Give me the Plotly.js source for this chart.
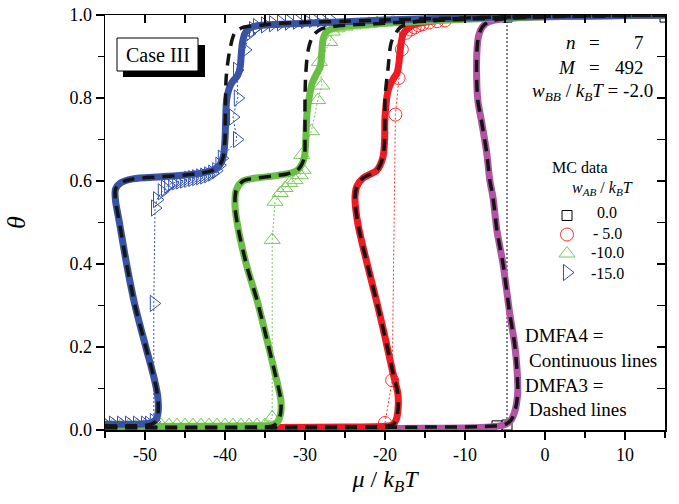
<!DOCTYPE html>
<html><head><meta charset="utf-8">
<script src="https://cdn.plot.ly/plotly-3.0.1.min.js"></script>
<style>html,body{margin:0;padding:0;background:#fff}#chart{width:679px;height:504px}</style>
</head><body><div id="chart"></div>
<script>
// ---------- tick labels ----------
const xTickVals = [-50, -40, -30, -20, -10, 0, 10];
const xTickText = ['-50', '-40', '-30', '-20', '-10', '0', '10'];
const yTickVals = [0, 0.2, 0.4, 0.6, 0.8, 1.0];
const yTickText = ['0.0', '0.2', '0.4', '0.6', '0.8', '1.0'];
const xMinorVals = [-55, -50, -45, -40, -35, -30, -25, -20, -15, -10, -5, 0, 5, 10, 15];
const yMinorVals = [0, 0.1, 0.2, 0.3, 0.4, 0.5, 0.6, 0.7, 0.8, 0.9, 1.0];

// ---------- legend labels (w_AB / k_B T) ----------
const mcLabels = ['0.0', '- 5.0', '-10.0', '-15.0'];

// ---------- DMFA4 (continuous lines) ----------
const blue4X = [-55, -52, -50, -49.2, -48.6, -48.35, -48.4, -48.8, -49.9, -51.25, -52.3, -53.2, -53.7, -53.7, -53.1, -51.5, -48, -45.25, -43, -41.5, -40.6, -40.2, -40.0, -39.8, -39.5, -39.1, -38.4, -38.1, -37.95, -37.8, -37.5, -37.0, -36, -34, -30, -25, -20, -10, 0, 15];
const blue4Y = [0.014, 0.014, 0.015, 0.018, 0.026, 0.045, 0.08, 0.12, 0.2, 0.3, 0.4, 0.5, 0.555, 0.58, 0.595, 0.605, 0.61, 0.614, 0.619, 0.626, 0.64, 0.66, 0.7, 0.795, 0.822, 0.838, 0.855, 0.875, 0.91, 0.935, 0.956, 0.968, 0.974, 0.977, 0.98, 0.984, 0.988, 0.993, 0.997, 1.0];

const green4X = [-55, -45, -36, -34, -33.4, -33.05, -33.0, -33.3, -33.75, -34.75, -36, -37.25, -38.4, -38.75, -38.6, -37.75, -36.5, -34, -32.25, -31, -30.4, -30.05, -29.9, -29.75, -29.4, -29.1, -28.5, -28.1, -27.9, -27.75, -27.4, -26.5, -25, -20, -10, 0, 15];
const green4Y = [0.009, 0.009, 0.01, 0.012, 0.02, 0.04, 0.07, 0.1, 0.137, 0.217, 0.313, 0.393, 0.49, 0.54, 0.578, 0.6, 0.606, 0.612, 0.617, 0.625, 0.64, 0.66, 0.7, 0.764, 0.81, 0.836, 0.86, 0.875, 0.91, 0.94, 0.958, 0.968, 0.973, 0.98, 0.99, 0.996, 1.0];

const red4X = [-55, -40, -25, -20, -19, -18.6, -18.35, -18.4, -19, -20, -21, -22.25, -23.4, -23.75, -23.5, -22.75, -21, -20.25, -20.05, -20, -19.6, -19.0, -18.5, -18.25, -18.1, -17.7, -17.0, -16.5, -13, -5, 0, 15];
const red4Y = [0.006, 0.006, 0.007, 0.009, 0.013, 0.025, 0.055, 0.089, 0.137, 0.224, 0.306, 0.402, 0.498, 0.56, 0.588, 0.607, 0.626, 0.658, 0.7, 0.754, 0.819, 0.845, 0.86, 0.885, 0.916, 0.956, 0.97, 0.976, 0.988, 0.995, 0.997, 1.0];

const mag4X = [-55, -30, -15, -8, -6, -5, -4.2, -3.7, -3.45, -3.4, -3.75, -4.4, -5.25, -6, -6.5, -6.9, -7.3, -7.9, -8.4, -8.55, -8.5, -8.3, -7.8, -7.0, -5.5, -3, 0, 15];
const mag4Y = [0.003, 0.003, 0.004, 0.006, 0.009, 0.013, 0.025, 0.05, 0.08, 0.104, 0.2, 0.28, 0.4, 0.48, 0.56, 0.602, 0.67, 0.74, 0.795, 0.86, 0.916, 0.95, 0.972, 0.984, 0.99, 0.994, 0.996, 1.0];

// ---------- DMFA3 (dashed lines) ----------
const blue3X = [-55, -52, -50, -49.2, -48.6, -48.35, -48.4, -48.8, -49.9, -51.25, -52.3, -53.2, -53.7, -53.7, -53.1, -51.5, -48, -45.25, -43, -41.5, -40.6, -40.2, -40.0, -39.95, -39.85, -39.4, -38.75, -37.75, -35.25, -34, -30, -25, -20, -10, 0, 15];
const blue3Y = [0.01, 0.01, 0.011, 0.014, 0.022, 0.045, 0.08, 0.12, 0.2, 0.3, 0.4, 0.5, 0.555, 0.58, 0.595, 0.605, 0.61, 0.614, 0.619, 0.626, 0.64, 0.66, 0.7, 0.76, 0.85, 0.916, 0.958, 0.97, 0.976, 0.979, 0.982, 0.985, 0.988, 0.993, 0.997, 1.0];

const green3X = [-55, -45, -36, -34, -33.4, -33.05, -33.0, -33.3, -33.75, -34.75, -36, -37.25, -38.4, -38.75, -38.6, -37.75, -36.5, -34, -32.25, -31, -30.4, -30.05, -30.0, -30.0, -29.9, -29.6, -29.0, -28.0, -26.5, -25, -20, -10, 0, 15];
const green3Y = [0.006, 0.006, 0.007, 0.01, 0.02, 0.04, 0.07, 0.1, 0.137, 0.217, 0.313, 0.393, 0.49, 0.54, 0.578, 0.6, 0.606, 0.612, 0.617, 0.625, 0.64, 0.66, 0.7, 0.8, 0.86, 0.916, 0.95, 0.966, 0.972, 0.975, 0.98, 0.99, 0.996, 1.0];

const red3X = [-55, -40, -25, -20, -19, -18.6, -18.35, -18.4, -19, -20, -21, -22.25, -23.4, -23.75, -23.5, -22.75, -21, -20.25, -20.05, -20, -20.0, -19.6, -19.2, -18.1, -16, -13, -5, 0, 15];
const red3Y = [0.006, 0.006, 0.007, 0.009, 0.013, 0.025, 0.055, 0.089, 0.137, 0.224, 0.306, 0.402, 0.498, 0.56, 0.588, 0.607, 0.626, 0.658, 0.7, 0.754, 0.8, 0.875, 0.935, 0.97, 0.985, 0.99, 0.995, 0.997, 1.0];

const mag3X = mag4X;
const mag3Y = [0.006, 0.006, 0.007, 0.008, 0.01, 0.013, 0.025, 0.05, 0.08, 0.104, 0.2, 0.28, 0.4, 0.48, 0.56, 0.602, 0.67, 0.74, 0.795, 0.86, 0.916, 0.95, 0.972, 0.984, 0.99, 0.994, 0.996, 1.0];

// ---------- MC data ----------
const mcBlueX = [-55, -54, -53, -52, -51, -50, -49.5, -48.9, -48.9, -48.75, -48.5, -47.9, -47.5, -47.1, -46.6, -46.1, -45.6, -45.1, -44.6, -44.1, -43.6, -43.1, -42.6, -42.1, -41.6, -41.1, -40.7, -40.4, -38.5, -39.0, -38.4, -38.5, -37.5, -37.0, -36.5, -36, -35, -34, -33, -32, -31, -30, -29, -28, -27];
const mcBlueY = [0.014, 0.014, 0.014, 0.014, 0.014, 0.014, 0.014, 0.02, 0.305, 0.535, 0.555, 0.574, 0.583, 0.59, 0.595, 0.598, 0.6, 0.602, 0.604, 0.606, 0.608, 0.61, 0.612, 0.615, 0.619, 0.625, 0.638, 0.655, 0.7, 0.754, 0.8, 0.867, 0.916, 0.955, 0.965, 0.972, 0.976, 0.979, 0.981, 0.983, 0.985, 0.987, 0.989, 0.99, 0.991];

const mcGreenX = [-55, -54, -53, -52, -51, -50, -49, -48, -47, -46, -45, -44, -43, -42, -41, -40, -39, -38, -37, -36, -35, -34.1, -34.1, -33.75, -33.1, -32.5, -31.9, -31.25, -30.6, -30.25, -30.4, -29.2, -28.4, -27.9, -28.2, -26.9, -26.6, -26, -25, -24, -23, -22, -21, -20, -19];
const mcGreenY = [0.012, 0.012, 0.012, 0.012, 0.012, 0.012, 0.012, 0.012, 0.012, 0.012, 0.012, 0.012, 0.012, 0.012, 0.012, 0.012, 0.012, 0.012, 0.012, 0.012, 0.012, 0.03, 0.458, 0.55, 0.571, 0.583, 0.595, 0.602, 0.614, 0.627, 0.663, 0.72, 0.795, 0.83, 0.887, 0.935, 0.96, 0.968, 0.972, 0.975, 0.977, 0.979, 0.981, 0.983, 0.985];

const mcRedX = [-20, -19.1, -18.7, -18.3, -17.9, -17.4, -16.8, -16.3, -15.8, -15.3, -14.5, -13.5, -12.5];
const mcRedY = [0.017, 0.12, 0.76, 0.848, 0.917, 0.957, 0.965, 0.97, 0.975, 0.978, 0.982, 0.985, 0.987];

const mcBlackX = [-55, -6, -4.75, -4.75, 15];
const mcBlackY = [0.008, 0.01, 0.012, 0.995, 0.995];

// ---------- styles ----------
const C = {blue: 'rgb(57,83,164)', green: 'rgb(106,190,69)', red: 'rgb(237,28,36)', mag: 'rgb(178,84,164)',
           mcBlue: 'rgb(52,80,176)', mcGreen: 'rgb(120,200,90)', mcRed: 'rgb(255,50,50)', mcBlack: 'rgb(0,0,0)'};
const serif = 'Liberation Serif, Times New Roman, serif';

const traces = [];
function mcLine(x, y, color) {
  traces.push({x, y, mode: 'lines', line: {color, width: 1, dash: '2px,2px'}, showlegend: false, hoverinfo: 'skip'});
}
function mcMarkers(x, y, color, symbol, size) {
  traces.push({x, y, mode: 'markers', name: '\u00a0', marker: {symbol, size, color, line: {color, width: 1}}});
}
mcLine(mcBlackX, mcBlackY, C.mcBlack);
mcLine(mcRedX, mcRedY, C.mcRed);
mcLine(mcGreenX, mcGreenY, C.mcGreen);
mcLine(mcBlueX, mcBlueY, C.mcBlue);
mcMarkers(mcBlackX, mcBlackY, C.mcBlack, 'square-open', 10);
mcMarkers(mcRedX, mcRedY, C.mcRed, 'circle-open', 13);
mcMarkers(mcGreenX, mcGreenY, C.mcGreen, 'triangle-up-open', 14);
mcMarkers(mcBlueX, mcBlueY, C.mcBlue, 'triangle-right-open', 14);

function dmfa4(x, y, color) {
  traces.push({x, y, mode: 'lines', line: {color, width: 7, shape: 'spline', smoothing: 0.8}, showlegend: false, hoverinfo: 'skip'});
}
function dmfa3(x, y) {
  traces.push({x, y, mode: 'lines', line: {color: 'rgb(20,20,20)', width: 3.5, dash: '12px,8px', shape: 'spline', smoothing: 0.8}, showlegend: false, hoverinfo: 'skip'});
}
dmfa4(mag4X, mag4Y, C.mag);
dmfa4(red4X, red4Y, C.red);
dmfa4(green4X, green4Y, C.green);
dmfa4(blue4X, blue4Y, C.blue);
dmfa3(mag3X, mag3Y);
dmfa3(red3X, red3Y);
dmfa3(green3X, green3Y);
dmfa3(blue3X, blue3Y);

// invisible trace on the overlay axes that carry the inside ticks (top / right)
traces.push({x: [0], y: [0.5], xaxis: 'x2', yaxis: 'y2', mode: 'markers', marker: {size: 2, color: 'rgba(0,0,0,0)'}, showlegend: false, hoverinfo: 'skip'});

const px = v => (v - 105) / 560;
const py = v => (430 - v) / 415;

const ann = (text, x, y, xanchor, size) => ({
  text, x, y, xref: 'paper', yref: 'paper', xanchor, yanchor: 'middle', showarrow: false,
  font: {family: serif, size, color: '#000'}});

const legendRows = [213, 233, 252, 273];
const legendAnns = mcLabels.map((t, i) => ann(t, px(607), py(legendRows[i]), 'center', 16));

const layout = {
  width: 679, height: 504,
  margin: {l: 105, r: 14, t: 15, b: 74, autoexpand: false},
  paper_bgcolor: '#fff', plot_bgcolor: '#fff',
  font: {family: serif, color: '#000'},
  showlegend: true,
  legend: {x: px(547), y: py(201), xanchor: 'left', yanchor: 'top', bgcolor: 'rgba(0,0,0,0)',
           font: {family: serif, size: 11, color: '#000'}, itemwidth: 30, tracegroupgap: 0},
  xaxis: {range: [-55, 15], tickvals: xTickVals, ticktext: xTickText, ticks: 'outside', ticklen: 8, tickwidth: 1.2,
          tickcolor: '#000', showline: true, linecolor: '#000', linewidth: 1.5, mirror: true, showgrid: false, zeroline: false,
          automargin: true, tickfont: {family: serif, size: 18, color: '#000'},
          minor: {tickvals: xMinorVals, ticks: 'outside', ticklen: 6, tickwidth: 1.2, tickcolor: '#000', showgrid: false},
          title: {text: '<i>μ</i> / <i>k</i><sub><i>B</i></sub><i>T</i>', font: {family: serif, size: 24, color: '#000'}, standoff: 6}},
  yaxis: {range: [0, 1], tickvals: yTickVals, ticktext: yTickText, ticks: 'outside', ticklen: 8, tickwidth: 1.2,
          tickcolor: '#000', showline: true, linecolor: '#000', linewidth: 1.5, mirror: true, showgrid: false, zeroline: false,
          automargin: true, tickfont: {family: serif, size: 18, color: '#000'},
          minor: {tickvals: yMinorVals, ticks: 'outside', ticklen: 6, tickwidth: 1.2, tickcolor: '#000', showgrid: false},
          title: {text: '<i>θ</i>', font: {family: serif, size: 26, color: '#000'}, standoff: 36}},
  xaxis2: {overlaying: 'x', side: 'top', anchor: 'y', range: [-55, 15], tickvals: xMinorVals, ticktext: xMinorVals.map(String),
           ticks: 'inside', ticklen: 8, tickwidth: 1.5, tickcolor: '#000', showticklabels: true,
           tickfont: {size: 2, color: 'rgba(255,255,255,0)'}, showgrid: false, zeroline: false, showline: false},
  yaxis2: {overlaying: 'y', side: 'right', anchor: 'x', range: [0, 1], tickvals: yMinorVals, ticktext: yMinorVals.map(String),
           ticks: 'inside', ticklen: 8, tickwidth: 1.5, tickcolor: '#000', showticklabels: true,
           tickfont: {size: 2, color: 'rgba(255,255,255,0)'}, showgrid: false, zeroline: false, showline: false},
  shapes: [
    {type: 'rect', xref: 'paper', yref: 'paper', x0: px(123), x1: px(205), y0: py(77), y1: py(45), fillcolor: '#000', line: {width: 0}},
    {type: 'rect', xref: 'paper', yref: 'paper', x0: px(117), x1: px(198), y0: py(71), y1: py(38), fillcolor: '#fff', line: {color: '#000', width: 1}}
  ],
  annotations: [
    ann('Case III', px(157.5), py(55), 'center', 20),
    ann('<i>n</i>', px(578), py(42), 'right', 19),
    ann('=', px(594), py(42), 'center', 19),
    ann('7', px(646), py(42), 'right', 19),
    ann('<i>M</i>', px(578), py(67), 'right', 19),
    ann('=', px(594), py(67), 'center', 19),
    ann('492', px(646), py(67), 'right', 19),
    ann('<i>w</i><sub><i>BB</i></sub> / <i>k</i><sub><i>B</i></sub><i>T</i> = -2.0', px(655), py(92), 'right', 19),
    ann('MC data', px(550), py(167), 'left', 16),
    ann('<i>w</i><sub><i>AB</i></sub> / <i>k</i><sub><i>B</i></sub><i>T</i>', px(570), py(188), 'left', 16),
    ...legendAnns,
    ann('DMFA4 =', px(523), py(335), 'left', 19),
    ann('Continuous lines', px(527), py(360), 'left', 19),
    ann('DMFA3 =', px(523), py(385), 'left', 19),
    ann('Dashed lines', px(527), py(409), 'left', 19)
  ]
};

Plotly.newPlot('chart', traces, layout, {staticPlot: true, displayModeBar: false});
</script></body></html>
